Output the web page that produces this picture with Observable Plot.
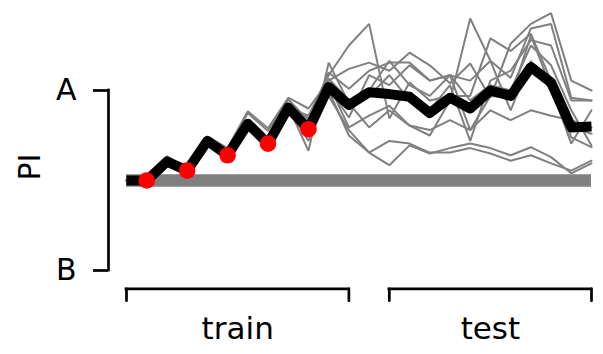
<!DOCTYPE html>
<html>
<head>
<meta charset="utf-8">
<script src="https://cdn.jsdelivr.net/npm/d3@7"></script>
<script src="https://cdn.jsdelivr.net/npm/@observablehq/plot@0.6"></script>
<style>
  html, body { margin: 0; padding: 0; background: #fff; }
  #chart { width: 603px; height: 354px; }
</style>
</head>
<body>
<div id="chart"></div>
<script>
// Trial index (0..23), preference index: A = +1, B = -1, chance = 0
const trials = d3.range(24);
const meanPI = [0, 0, 0.21, 0.11, 0.44, 0.28, 0.63, 0.41, 0.81, 0.57, 1.04, 0.84, 0.98, 0.96, 0.93, 0.75, 0.92, 0.80, 1.00, 0.94, 1.26, 1.09, 0.59, 0.60];
const runs = [
  [0, 0, 0.21, 0.11, 0.44, 0.28, 0.63, 0.41, 0.81, 0.72, 1.17, 1.50, 1.74, 0.69, 1.09, 0.89, 0.94, 0.94, 1.58, 1.44, 1.63, 1.11, 0.48, 0.37],
  [0, 0, 0.22, 0.11, 0.45, 0.29, 0.65, 0.43, 0.82, 0.33, 1.31, 0.86, 0.59, 0.78, 0.61, 0.50, 0.89, 1.80, 1.33, 1.14, 1.69, 1.74, 0.92, 0.89],
  [0, 0, 0.27, 0.13, 0.49, 0.36, 0.77, 0.58, 0.92, 0.80, 1.11, 1.24, 1.31, 1.22, 1.42, 1.28, 1.08, 1.30, 0.92, 1.52, 1.74, 1.86, 1.11, 1.00],
  [0, 0, 0.25, 0.12, 0.47, 0.33, 0.75, 0.55, 0.90, 0.67, 1.20, 1.02, 1.22, 1.31, 1.31, 1.11, 1.17, 0.56, 0.94, 0.92, 1.61, 1.03, 0.41, 0.78],
  [0, 0, 0.21, 0.11, 0.44, 0.28, 0.63, 0.41, 0.81, 0.61, 1.03, 0.70, 1.17, 1.06, 1.28, 1.11, 1.17, 1.11, 1.33, 0.78, 1.33, 1.00, 0.59, 0.52],
  [0, 0, 0.20, 0.10, 0.43, 0.27, 0.62, 0.40, 0.80, 0.56, 1.07, 0.59, 0.72, 0.83, 0.61, 0.56, 0.67, 0.56, 0.78, 0.67, 0.78, 0.72, 0.67, 0.59],
  [0, 0, 0.21, 0.11, 0.44, 0.28, 0.63, 0.41, 0.81, 0.50, 1.00, 0.50, 0.31, 0.17, 0.39, 0.30, 0.36, 0.41, 0.36, 0.28, 0.37, 0.26, 0.08, 0.19],
  [0, 0, 0.21, 0.11, 0.44, 0.28, 0.63, 0.41, 0.81, 0.44, 0.94, 0.56, 0.31, 0.44, 0.41, 0.31, 0.31, 0.36, 0.30, 0.22, 0.28, 0.19, 0.11, 0.22],
  [0, 0, 0.22, 0.12, 0.45, 0.29, 0.64, 0.42, 0.82, 0.69, 1.13, 0.89, 1.00, 1.33, 1.06, 0.94, 1.17, 0.89, 1.06, 1.00, 1.50, 1.28, 0.78, 0.39],
  [0, 0, 0.21, 0.11, 0.44, 0.28, 0.63, 0.41, 0.81, 0.61, 1.06, 0.89, 0.94, 1.17, 0.89, 0.78, 1.06, 0.44, 1.11, 1.22, 1.56, 1.50, 0.89, 0.89]
];
const dotTrials = [1, 3, 5, 7, 9];
const phases = ["train", "test"];
const phaseStart = [0, 13];
const phaseEnd = [11, 23];
const yTicks = [1, -1];
const yTickLabels = ["A", "B"];
const yLabel = "PI";
const chance = 0;

const runData = runs.flatMap((vals, r) => vals.map((v, i) => ({run: r, x: trials[i], y: v})));
const meanData = meanPI.map((v, i) => ({x: trials[i], y: v}));
const dotData = dotTrials.map(t => ({x: t, y: meanPI[t]}));
const brackets = phases.map((p, i) => ({label: p, start: phaseStart[i], end: phaseEnd[i]}));
const bracketEnds = brackets.flatMap(b => [b.start, b.end]);
const yMin = d3.min(yTicks);

const lineShape = {draw(context, l) { context.moveTo(0, 0); context.lineTo(0, -l); }};
const ink = "#000000";
const grey = "#808080";
const sw = 2.7;

const chart = Plot.plot({
  width: 603,
  height: 354,
  marginLeft: 126,
  marginRight: 12,
  marginTop: 90,
  marginBottom: 84,
  style: {fontFamily: "DejaVu Sans", fontSize: "30px", color: ink, background: "#fff", overflow: "visible"},
  x: {domain: [trials[0], trials[trials.length - 1]], axis: null},
  y: {domain: [yMin, d3.max(yTicks)], axis: null},
  marks: [
    Plot.ruleY([chance], {stroke: grey, strokeWidth: 12.4}),
    Plot.line(runData, {x: "x", y: "y", z: "run", stroke: grey, strokeWidth: 2, strokeLinejoin: "miter"}),
    Plot.line(meanData, {x: "x", y: "y", stroke: ink, strokeWidth: 10, strokeLinejoin: "round", strokeLinecap: "butt"}),
    Plot.dot(dotData, {x: "x", y: "y", r: 8.3, fill: "#ff0000", stroke: null}),
    Plot.axisY(yTicks, {tickFormat: d => yTickLabels[yTicks.indexOf(d)], tickSize: 15, tickPadding: 17, dx: -18, fontSize: 30, strokeWidth: sw, label: null}),
    Plot.ruleX([trials[0]], {y1: yMin, y2: d3.max(yTicks), dx: -18, stroke: ink, strokeWidth: sw, strokeLinecap: "square"}),
    Plot.text([yLabel], {text: d => d, frameAnchor: "left", dx: -96.5, rotate: -90, fontSize: 30, fill: ink}),
    Plot.ruleY(brackets, {x1: "start", x2: "end", y: () => yMin, dy: 18.3, stroke: ink, strokeWidth: sw, strokeLinecap: "square"}),
    Plot.vector(bracketEnds, {x: d => d, y: () => yMin, dy: 18.3, length: 12, rotate: 180, anchor: "start", shape: lineShape, stroke: ink, strokeWidth: sw}),
    Plot.text(brackets, {x: d => (d.start + d.end) / 2, y: () => yMin, dy: 58.7, text: "label", fontSize: 31, fill: ink})
  ]
});
document.getElementById("chart").appendChild(chart);
</script>
</body>
</html>
